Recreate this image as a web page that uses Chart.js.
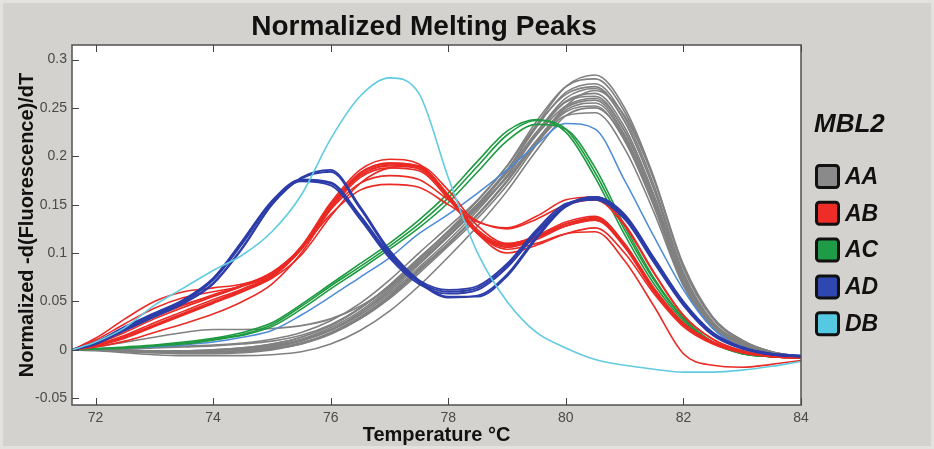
<!DOCTYPE html>
<html>
<head>
<meta charset="utf-8">
<script src="https://cdn.jsdelivr.net/npm/chart.js@4.4.1/dist/chart.umd.min.js"></script>
<style>
  html, body { margin: 0; padding: 0; background: #d3d2ce; }
  canvas { display: block; }
</style>
</head>
<body>
<canvas id="meltChart" width="934" height="449"></canvas>
<script>
// temperature samples (°C)
const temps = [71.6, 72, 72.5, 73, 73.5, 74, 74.5, 75, 75.5, 76, 76.5, 77, 77.5, 78, 78.5, 79, 79.5, 80, 80.5, 81, 81.5, 82, 82.5, 83, 83.5, 84];

const xTicks = [72, 74, 76, 78, 80, 82, 84];
const xTickLabels = ['72', '74', '76', '78', '80', '82', '84'];
const yTicks = [-0.05, 0, 0.05, 0.1, 0.15, 0.2, 0.25, 0.3];
const yTickLabels = ['-0.05', '0', '0.05', '0.1', '0.15', '0.2', '0.25', '0.3'];

const groupNames = ['AA', 'AB', 'AC', 'AD', 'DB'];
const groupColors = ['#808080', '#ea2a24', '#1e9a40', '#2c3ca9', '#62cbe0'];
const legendFills = ['#8a8a8a', '#ee2c28', '#1f9a46', '#2f48b0', '#56c9e2'];

// AA (grey)
const aaCurves = [
  [0,0,-0.001,-0.002,-0.002,-0.001, 0.001,0.004,0.01,0.021, 0.038,0.06,0.088,0.117, 0.148,0.185,0.232,0.272, 0.284,0.25,0.178,0.085, 0.032,0.009,-0.002,-0.007],
  [0,0,-0.001,-0.002,-0.002,-0.001, 0.001,0.005,0.011,0.023, 0.04,0.064,0.092,0.12, 0.15,0.186,0.23,0.266, 0.275,0.24,0.17,0.08, 0.029,0.008,-0.003,-0.007],
  [0,0,-0.002,-0.003,-0.003,-0.002, 0,0.003,0.009,0.02, 0.036,0.058,0.085,0.113, 0.144,0.18,0.224,0.26, 0.27,0.236,0.166,0.078, 0.028,0.008,-0.003,-0.007],
  [0,0.001,0.001,0.002,0.003,0.004, 0.006,0.009,0.015,0.026, 0.043,0.066,0.094,0.122, 0.151,0.185,0.225,0.257, 0.265,0.23,0.16,0.075, 0.026,0.007,-0.003,-0.007],
  [0,0,-0.001,-0.002,-0.002,-0.001, 0.001,0.004,0.01,0.021, 0.038,0.062,0.09,0.118, 0.147,0.18,0.222,0.256, 0.262,0.226,0.155,0.072, 0.025,0.006,-0.003,-0.007],
  [0,0,-0.001,-0.003,-0.004,-0.004, -0.003,0,0.006,0.016, 0.032,0.054,0.081,0.109, 0.139,0.174,0.216,0.25, 0.258,0.222,0.152,0.07, 0.024,0.006,-0.003,-0.007],
  [0,0.003,0.008,0.013,0.018,0.021, 0.021,0.022,0.025,0.032, 0.045,0.065,0.09,0.117, 0.146,0.178,0.216,0.248, 0.255,0.22,0.15,0.069, 0.024,0.006,-0.003,-0.007],
  [0,-0.001,-0.003,-0.005,-0.006,-0.006, -0.006,-0.005,-0.002,0.006, 0.02,0.04,0.066,0.096, 0.128,0.164,0.206,0.242, 0.25,0.218,0.15,0.068, 0.023,0.005,-0.004,-0.007],
  [0,0,-0.001,-0.002,-0.002,-0.002, -0.001,0.002,0.007,0.017, 0.032,0.053,0.079,0.107, 0.136,0.17,0.212,0.252, 0.268,0.242,0.176,0.088, 0.034,0.01,-0.002,-0.007],
  [0,0,-0.001,-0.002,-0.003,-0.003, -0.002,0.001,0.007,0.018, 0.034,0.056,0.083,0.11, 0.14,0.174,0.213,0.242, 0.245,0.208,0.142,0.066, 0.022,0.005,-0.004,-0.007],
  [0,0.001,0.002,0.003,0.004,0.005, 0.007,0.011,0.018,0.03, 0.048,0.072,0.1,0.127, 0.155,0.19,0.232,0.264, 0.272,0.236,0.166,0.078, 0.028,0.008,-0.003,-0.007],
  [0,0,0,-0.001,-0.001,0, 0.002,0.006,0.013,0.025, 0.043,0.067,0.095,0.122, 0.15,0.183,0.222,0.252, 0.26,0.226,0.158,0.074, 0.026,0.007,-0.003,-0.007],
  [0,0,-0.001,-0.001,-0.001,0, 0.002,0.006,0.013,0.025, 0.043,0.066,0.094,0.123, 0.154,0.19,0.236,0.272, 0.28,0.246,0.176,0.085, 0.033,0.01,-0.002,-0.007],
  [0,0,-0.001,-0.002,-0.003,-0.003, -0.002,0.001,0.006,0.017, 0.033,0.055,0.082,0.11, 0.14,0.175,0.215,0.246, 0.252,0.216,0.148,0.068, 0.023,0.005,-0.004,-0.007]
];

// AB (red)
const abCurves = [
  [0,0.005,0.015,0.028,0.04,0.052, 0.063,0.077,0.105,0.148, 0.18,0.19,0.187,0.158, 0.122,0.108,0.117,0.13, 0.136,0.108,0.062,0.027, 0.008,-0.002,-0.007,-0.008],
  [0,0.012,0.032,0.05,0.06,0.064, 0.068,0.078,0.107,0.152, 0.186,0.197,0.192,0.16, 0.122,0.106,0.114,0.128, 0.134,0.106,0.06,0.026, 0.007,-0.002,-0.007,-0.008],
  [0,0.008,0.022,0.036,0.047,0.056, 0.066,0.079,0.106,0.15, 0.183,0.193,0.19,0.16, 0.124,0.109,0.118,0.132, 0.138,0.11,0.064,0.028, 0.008,-0.002,-0.007,-0.008],
  [0,0.003,0.009,0.018,0.027,0.037, 0.05,0.068,0.1,0.145, 0.178,0.188,0.185,0.156, 0.12,0.106,0.116,0.13, 0.135,0.107,0.061,0.026, 0.007,-0.003,-0.007,-0.008],
  [0,0.006,0.018,0.032,0.044,0.055, 0.066,0.08,0.105,0.14, 0.165,0.171,0.168,0.15, 0.132,0.126,0.138,0.155, 0.158,0.13,0.08,0.036, 0.011,-0.001,-0.006,-0.008],
  [0,0.007,0.02,0.034,0.046,0.057, 0.067,0.08,0.106,0.145, 0.172,0.18,0.176,0.155, 0.133,0.125,0.135,0.15, 0.155,0.128,0.079,0.035, 0.011,-0.001,-0.006,-0.008],
  [0,0.004,0.012,0.024,0.036,0.048, 0.06,0.075,0.104,0.147, 0.18,0.191,0.188,0.158, 0.12,0.104,0.11,0.12, 0.122,0.092,0.045,-0.004, -0.016,-0.018,-0.015,-0.011],
  [0,0.005,0.014,0.026,0.038,0.05, 0.062,0.076,0.104,0.148, 0.182,0.193,0.19,0.16, 0.12,0.1,0.108,0.12, 0.126,0.1,0.058,0.024, 0.006,-0.003,-0.007,-0.008],
  [0,0.004,0.013,0.025,0.037,0.049, 0.061,0.074,0.098,0.138, 0.172,0.188,0.19,0.165, 0.128,0.11,0.116,0.128, 0.134,0.108,0.063,0.027, 0.008,-0.002,-0.007,-0.008],
  [0,0.01,0.027,0.043,0.054,0.06, 0.066,0.077,0.104,0.148, 0.182,0.192,0.189,0.158, 0.121,0.107,0.116,0.13, 0.137,0.109,0.062,0.027, 0.008,-0.002,-0.007,-0.008]
];

// AC (green)
const acCurves = [
  [0,0.001,0.002,0.004,0.007,0.011, 0.016,0.026,0.045,0.066, 0.086,0.107,0.13,0.157, 0.19,0.222,0.237,0.228, 0.183,0.124,0.072,0.032, 0.008,-0.004,-0.007,-0.008],
  [0,0.001,0.003,0.005,0.008,0.012, 0.018,0.028,0.047,0.068, 0.089,0.11,0.134,0.162, 0.195,0.226,0.238,0.225, 0.178,0.119,0.068,0.03, 0.007,-0.004,-0.007,-0.008],
  [0,0.001,0.002,0.004,0.006,0.01, 0.015,0.024,0.042,0.063, 0.083,0.104,0.126,0.152, 0.184,0.216,0.233,0.228, 0.188,0.128,0.074,0.033, 0.008,-0.004,-0.007,-0.008]
];

// AD (dark blue)
const adCurves = [
  [0,0.006,0.02,0.034,0.048,0.068, 0.105,0.15,0.178,0.186, 0.148,0.103,0.072,0.055, 0.055,0.076,0.115,0.148, 0.158,0.14,0.095,0.05, 0.018,0.003,-0.004,-0.006],
  [0,0.006,0.021,0.035,0.049,0.069, 0.106,0.15,0.177,0.184, 0.146,0.101,0.07,0.054, 0.056,0.078,0.117,0.149, 0.158,0.139,0.094,0.049, 0.017,0.002,-0.004,-0.006],
  [0,0.007,0.022,0.036,0.05,0.072, 0.11,0.152,0.174,0.17, 0.135,0.095,0.068,0.058, 0.062,0.085,0.12,0.148, 0.156,0.138,0.094,0.048, 0.016,0.002,-0.005,-0.007],
  [0,0.007,0.023,0.037,0.051,0.073, 0.112,0.153,0.175,0.172, 0.137,0.097,0.07,0.06, 0.064,0.087,0.122,0.15, 0.157,0.137,0.092,0.047, 0.016,0.002,-0.005,-0.007],
  [0,0.008,0.024,0.038,0.052,0.074, 0.113,0.154,0.176,0.173, 0.139,0.099,0.072,0.062, 0.066,0.089,0.124,0.151, 0.155,0.135,0.09,0.046, 0.015,0.001,-0.005,-0.007]
];

// DB (cyan)
const dbCurves = [
  [0,0.008,0.023,0.046,0.064,0.082, 0.098,0.122,0.16,0.218, 0.262,0.281,0.265,0.178, 0.1,0.05,0.018,0.002, -0.01,-0.016,-0.02,-0.023, -0.023,-0.021,-0.017,-0.012]
];

// single lighter blue trace (not in legend)
const lightBlueCurve = [0,0.001,0.002,0.003,0.005,0.008, 0.013,0.02,0.036,0.055, 0.075,0.095,0.12,0.14, 0.162,0.186,0.212,0.234, 0.228,0.175,0.117,0.062, 0.022,0.002,-0.005,-0.007];

const FONT = '"Liberation Sans", Arial, sans-serif';
Chart.defaults.font.family = FONT;

function toPoints(vals) {
  return vals.map((v, i) => ({ x: temps[i], y: v }));
}

function curveSet(curves, label, color, order, width) {
  return curves.map(vals => ({
    label: label,
    data: toPoints(vals),
    borderColor: color,
    borderWidth: width,
    pointRadius: 0,
    fill: false,
    cubicInterpolationMode: 'monotone',
    order: order
  }));
}

const datasets = [].concat(
  curveSet(aaCurves, 'AA', groupColors[0], 5, 1.6),
  curveSet([lightBlueCurve], 'AA', '#4d8bd6', 4, 1.5),
  curveSet(acCurves, 'AC', groupColors[2], 3, 1.6),
  curveSet(abCurves, 'AB', groupColors[1], 2, 1.6),
  curveSet(adCurves, 'AD', groupColors[3], 1, 1.8),
  curveSet(dbCurves, 'DB', groupColors[4], 0, 1.6)
);

const framePlugin = {
  id: 'frame',
  beforeDraw(chart) {
    const { ctx, chartArea: a, width, height } = chart;
    ctx.save();
    ctx.fillStyle = '#d3d2ce';
    ctx.fillRect(0, 0, width, height);
    ctx.strokeStyle = '#e3e2de';
    ctx.lineWidth = 3;
    ctx.strokeRect(1.5, 1.5, width - 3, height - 3);
    ctx.fillStyle = '#ffffff';
    ctx.fillRect(a.left, a.top, a.right - a.left, a.bottom - a.top);
    ctx.restore();
  },
  afterDraw(chart) {
    const { ctx, chartArea: a } = chart;
    const xs = chart.scales.x, ys = chart.scales.y;
    ctx.save();
    // plot border
    ctx.strokeStyle = '#505050';
    ctx.lineWidth = 1.5;
    ctx.strokeRect(a.left, a.top, a.right - a.left, a.bottom - a.top);
    // inward tick marks
    ctx.lineWidth = 1;
    ctx.strokeStyle = '#444';
    ctx.beginPath();
    xTicks.forEach(v => {
      const px = Math.round(xs.getPixelForValue(v)) + 0.5;
      ctx.moveTo(px, a.bottom); ctx.lineTo(px, a.bottom - 7);
      ctx.moveTo(px, a.top); ctx.lineTo(px, a.top + 7);
    });
    yTicks.forEach(v => {
      const py = Math.round(ys.getPixelForValue(v)) + 0.5;
      ctx.moveTo(a.left, py); ctx.lineTo(a.left + 7, py);
    });
    ctx.stroke();

    // title
    ctx.fillStyle = '#111';
    ctx.font = 'bold 28px ' + FONT;
    ctx.textAlign = 'center';
    ctx.textBaseline = 'middle';
    ctx.fillText('Normalized Melting Peaks', 424, 27);

    // legend
    ctx.textAlign = 'left';
    ctx.font = 'italic bold 26px ' + FONT;
    ctx.fillText('MBL2', 814, 125);
    ctx.font = 'italic bold 23px ' + FONT;
    groupNames.forEach((name, i) => {
      const cy = 176.5 + i * 36.8;
      ctx.beginPath();
      ctx.roundRect(816.5, cy - 11, 22, 22, 3);
      ctx.fillStyle = legendFills[i];
      ctx.fill();
      ctx.lineWidth = 3;
      ctx.strokeStyle = '#111';
      ctx.stroke();
      ctx.fillStyle = '#111';
      ctx.fillText(name, 845, cy + 1);
    });
    ctx.restore();
  }
};

new Chart(document.getElementById('meltChart').getContext('2d'), {
  type: 'line',
  data: { datasets: datasets },
  options: {
    responsive: false,
    animation: false,
    layout: { padding: { left: 0, right: 133, top: 45, bottom: 0 } },
    plugins: {
      legend: { display: false },
      tooltip: { enabled: false },
      title: { display: false }
    },
    scales: {
      x: {
        type: 'linear',
        min: 71.6,
        max: 84,
        afterBuildTicks: s => { s.ticks = xTicks.map(v => ({ value: v })); },
        afterFit: s => { s.height = 44; },
        grid: { display: false, drawTicks: false },
        border: { display: false },
        ticks: {
          padding: 5,
          color: '#4a4a4a',
          maxRotation: 0,
          font: { size: 14 },
          callback: v => xTickLabels[xTicks.indexOf(v)]
        },
        title: {
          display: true,
          text: 'Temperature °C',
          color: '#111',
          font: { size: 20, weight: 'bold' },
          padding: { top: 0, bottom: 2 }
        }
      },
      y: {
        type: 'linear',
        min: -0.057,
        max: 0.315,
        afterBuildTicks: s => { s.ticks = yTicks.map(v => ({ value: v })); },
        afterFit: s => { s.width = 72; },
        grid: { display: false, drawTicks: false },
        border: { display: false },
        ticks: {
          padding: 5,
          color: '#4a4a4a',
          font: { size: 14 },
          callback: v => yTickLabels[yTicks.indexOf(v)]
        },
        title: {
          display: true,
          text: 'Normalized -d(Fluorescence)/dT',
          color: '#111',
          font: { size: 20, weight: 'bold' },
          padding: { top: 15, bottom: 0 }
        }
      }
    }
  },
  plugins: [framePlugin]
});
</script>
</body>
</html>
